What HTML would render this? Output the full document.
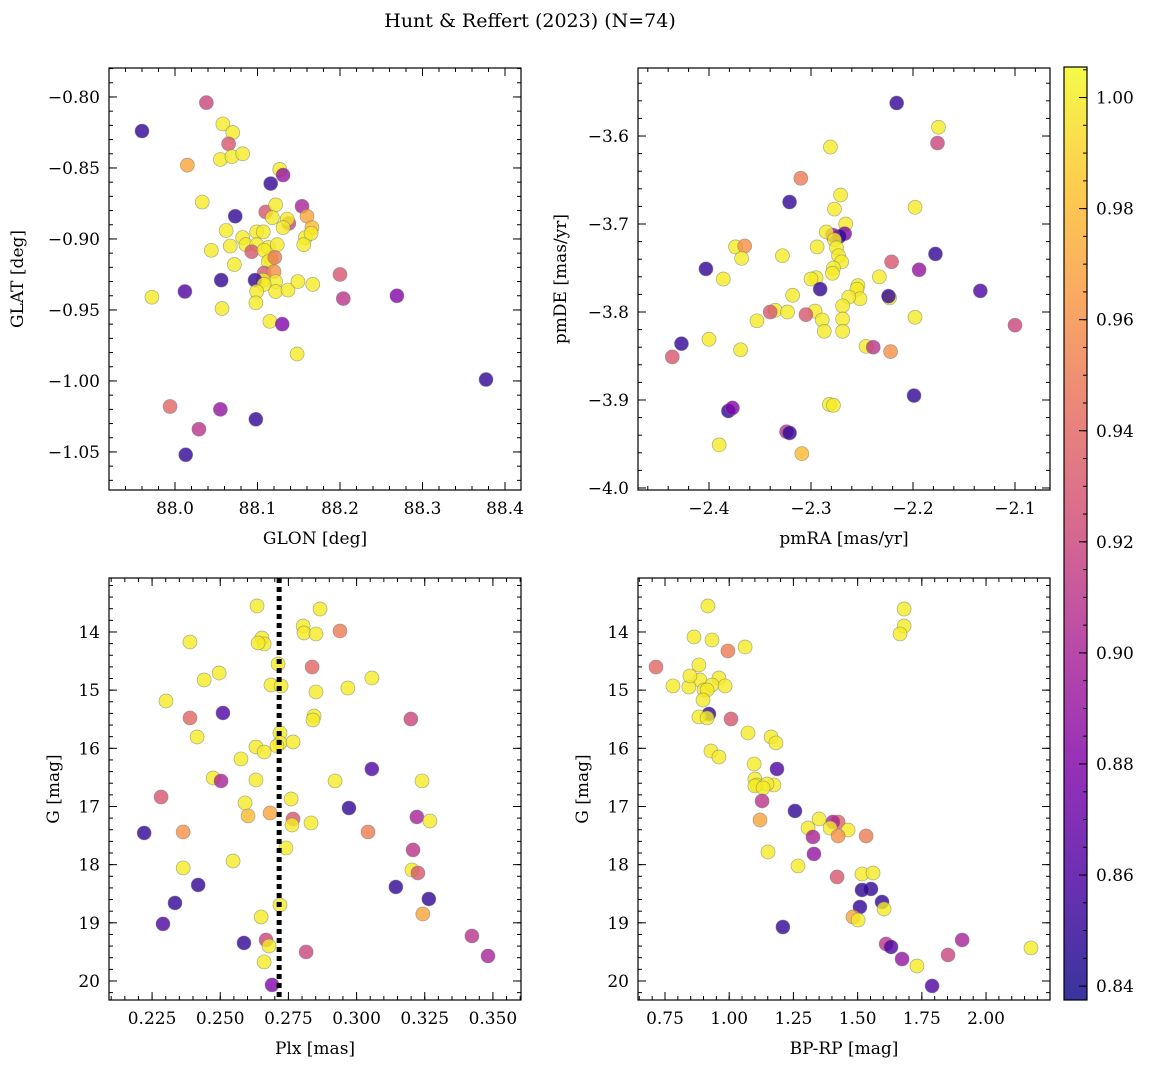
<!DOCTYPE html>
<html><head><meta charset="utf-8">
<style>
html,body{margin:0;padding:0;background:#fff;}
svg{display:block;font-family:"DejaVu Serif","Liberation Serif",serif;}
</style></head>
<body>
<svg id="fig" width="1149" height="1067" viewBox="0 0 1149 1067" xmlns="http://www.w3.org/2000/svg">
<text x="530" y="27" text-anchor="middle" font-size="19">Hunt &amp; Reffert (2023) (N=74)</text>
</svg>
<script>
// Panel 1: GLON / GLAT
const glon=[87.960,88.038,88.015,88.058,88.070,88.065,88.055,88.069,88.082,88.033,88.116,88.127,88.131,88.073,88.110,88.122,88.118,88.154,88.160,88.166,88.138,88.136,88.131,88.062,88.082,88.086,88.067,88.044,88.099,88.107,88.099,88.113,88.116,88.093,88.108,88.124,88.113,88.072,88.158,88.156,88.165,88.121,88.108,88.120,88.122,88.107,88.056,88.097,88.108,88.122,88.099,88.137,88.149,88.167,88.200,88.012,87.972,88.057,88.098,88.115,88.130,88.204,88.269,88.148,88.377,87.994,88.055,88.029,88.098,88.013];
const glat=[-0.824,-0.804,-0.848,-0.819,-0.825,-0.833,-0.844,-0.842,-0.840,-0.874,-0.861,-0.851,-0.855,-0.884,-0.881,-0.876,-0.885,-0.877,-0.884,-0.892,-0.889,-0.886,-0.892,-0.894,-0.899,-0.904,-0.905,-0.908,-0.895,-0.895,-0.904,-0.906,-0.914,-0.909,-0.908,-0.904,-0.916,-0.918,-0.899,-0.904,-0.896,-0.913,-0.924,-0.923,-0.930,-0.929,-0.929,-0.929,-0.932,-0.937,-0.937,-0.936,-0.930,-0.932,-0.925,-0.937,-0.941,-0.949,-0.945,-0.958,-0.960,-0.942,-0.940,-0.981,-0.999,-1.018,-1.020,-1.034,-1.027,-1.052];
const prob1=[0.85,0.92,0.97,1,1,0.93,1,1,1,1,0.85,1,0.89,0.85,0.93,1,1,0.90,0.97,0.98,0.92,1,1,1,1,1,1,1,1,1,1,1,1,0.93,1,1,1,1,1,1,1,0.95,0.93,0.96,1,1,0.85,0.85,1,1,1,1,1,1,0.93,0.86,1,1,1,1,0.88,0.91,0.88,1,0.85,0.94,0.89,0.91,0.85,0.85];
// Panel 2: pmRA / pmDE
const pmra=[-2.216,-2.175,-2.176,-2.281,-2.310,-2.321,-2.271,-2.198,-2.277,-2.266,-2.267,-2.272,-2.279,-2.285,-2.294,-2.374,-2.365,-2.368,-2.403,-2.178,-2.328,-2.277,-2.275,-2.273,-2.270,-2.278,-2.279,-2.233,-2.221,-2.194,-2.386,-2.295,-2.300,-2.318,-2.291,-2.254,-2.255,-2.252,-2.263,-2.223,-2.224,-2.134,-2.269,-2.296,-2.353,-2.335,-2.340,-2.323,-2.305,-2.289,-2.269,-2.198,-2.100,-2.287,-2.269,-2.400,-2.369,-2.427,-2.246,-2.239,-2.222,-2.199,-2.436,-2.381,-2.377,-2.282,-2.278,-2.324,-2.321,-2.390,-2.309];
const pmde=[-3.5625,-3.590,-3.608,-3.6125,-3.648,-3.675,-3.667,-3.681,-3.683,-3.700,-3.711,-3.714,-3.7125,-3.709,-3.726,-3.726,-3.725,-3.739,-3.751,-3.734,-3.736,-3.718,-3.727,-3.736,-3.743,-3.750,-3.756,-3.760,-3.743,-3.752,-3.7625,-3.761,-3.7625,-3.781,-3.774,-3.770,-3.774,-3.785,-3.783,-3.784,-3.782,-3.776,-3.793,-3.799,-3.810,-3.798,-3.800,-3.800,-3.803,-3.809,-3.808,-3.806,-3.815,-3.822,-3.822,-3.831,-3.843,-3.836,-3.839,-3.840,-3.845,-3.895,-3.851,-3.9125,-3.909,-3.905,-3.906,-3.936,-3.9375,-3.951,-3.961];
const prob2=[0.85,1,0.92,1,0.95,0.85,1,1,1,1,0.88,0.85,0.89,1,1,1,0.96,1,0.85,0.85,1,1,1,1,1,1,1,1,0.93,0.89,1,1,1,1,0.85,1,1,1,1,1,0.85,0.86,1,1,1,1,0.93,1,0.93,1,1,1,0.92,1,1,1,1,0.85,1,0.91,0.96,0.85,0.93,0.85,0.88,1,1,0.91,0.85,1,0.98];
// Panel 3: Plx / G
const plx=[0.2635,0.2866,0.2804,0.2807,0.2939,0.2851,0.2653,0.2661,0.2639,0.2389,0.2712,0.2837,0.2496,0.2441,0.3056,0.2686,0.2723,0.2851,0.2968,0.2301,0.2510,0.2389,0.2844,0.2840,0.3199,0.2719,0.2415,0.2719,0.2767,0.2708,0.2631,0.2661,0.2576,0.3056,0.2474,0.2503,0.2631,0.2921,0.3240,0.2591,0.2760,0.2283,0.2972,0.2602,0.2683,0.2767,0.2833,0.2763,0.3221,0.3269,0.2221,0.2364,0.3042,0.2741,0.3207,0.2547,0.2364,0.3203,0.3225,0.2419,0.3144,0.3265,0.2334,0.2719,0.3243,0.2650,0.2290,0.3423,0.2587,0.2668,0.2679,0.2815,0.3482,0.2661,0.2690];
const gPlx=[13.553,13.605,13.897,14.017,13.983,14.034,14.103,14.206,14.189,14.172,14.550,14.602,14.705,14.825,14.791,14.911,14.928,15.031,14.963,15.186,15.392,15.478,15.444,15.513,15.496,15.736,15.805,15.908,15.891,15.960,15.977,16.063,16.183,16.355,16.510,16.561,16.544,16.561,16.561,16.939,16.871,16.837,17.026,17.163,17.112,17.215,17.283,17.318,17.180,17.249,17.455,17.438,17.438,17.713,17.747,17.937,18.057,18.091,18.143,18.349,18.384,18.590,18.659,18.693,18.848,18.899,19.019,19.226,19.346,19.295,19.398,19.501,19.570,19.673,20.068];
const prob3=[1,1,1,1,0.95,1,1,1,1,1,1,0.94,1,1,1,1,1,1,1,1,0.86,0.94,1,1,0.92,1,1,1,1,1,1,1,1,0.86,1,0.90,1,1,1,1,1,0.93,0.85,0.98,0.97,0.93,1,1,0.90,1,0.85,0.96,0.95,1,0.91,1,1,1,0.93,0.85,0.85,0.85,0.85,1,0.97,1,0.86,0.91,0.85,0.92,1,0.92,0.90,1,0.88];
// Panel 4: BP-RP / G
const bprp=[1.681,1.681,1.665,0.917,0.715,0.995,0.863,0.933,1.062,0.886,0.843,0.847,0.882,0.781,0.902,0.960,0.933,0.984,0.914,0.898,0.921,0.882,0.914,1.073,1.007,1.163,1.182,1.186,0.929,0.960,1.097,1.100,1.108,1.174,1.147,1.100,1.132,1.128,1.256,1.120,1.350,1.307,1.424,1.404,1.393,1.463,1.424,1.533,1.326,1.151,1.330,1.268,1.420,1.517,1.560,1.552,1.517,1.595,1.509,1.603,1.482,1.502,1.209,1.611,1.630,1.907,1.852,1.673,1.731,2.175,1.790];
const gCol=[13.605,13.897,14.034,13.553,14.602,14.326,14.086,14.137,14.258,14.825,14.946,14.756,14.567,14.928,14.997,14.791,14.911,14.928,14.997,15.169,15.410,15.461,15.478,15.736,15.496,15.805,15.908,16.355,16.046,16.149,16.269,16.527,16.630,16.630,16.613,16.647,16.681,16.905,17.077,17.232,17.215,17.370,17.266,17.266,17.370,17.404,17.507,17.507,17.524,17.782,17.816,18.022,18.211,18.160,18.143,18.418,18.435,18.642,18.728,18.762,18.900,18.952,19.072,19.364,19.415,19.295,19.553,19.622,19.742,19.432,20.085];
const prob4=[1,1,1,1,0.94,0.95,1,1,1,1,1,1,1,1,1,1,1,1,1,1,0.85,1,1,1,0.93,1,1,0.86,1,1,1,1,1,1,1,1,1,0.91,0.85,0.97,1,1,0.94,0.90,1,1,0.96,0.95,0.90,1,0.89,1,0.93,1,1,0.85,0.85,0.85,0.85,1,0.97,1,0.85,0.91,0.86,0.90,0.92,0.89,1,1,0.86];
// Colorbar ticks
const cbTicks=[0.84,0.86,0.88,0.90,0.92,0.94,0.96,0.98,1.00];

const NS="http://www.w3.org/2000/svg";
const svg=document.getElementById('fig');
function mk(tag,attrs,parent){const e=document.createElementNS(NS,tag);for(const k in attrs)e.setAttribute(k,attrs[k]);(parent||svg).appendChild(e);return e;}
const VMIN=0.8375,VMAX=1.0055;
const stops=[[0,[13,8,135]],[0.13,[75,3,161]],[0.25,[126,3,168]],[0.38,[170,35,149]],[0.5,[204,71,120]],[0.63,[229,107,93]],[0.75,[248,149,64]],[0.88,[253,196,39]],[1,[240,249,33]]];
function cmap(v){let t=(v-VMIN)/(VMAX-VMIN);t=Math.max(0,Math.min(1,t));for(let i=1;i<stops.length;i++){if(t<=stops[i][0]){const a=stops[i-1],b=stops[i];const f=(t-a[0])/(b[0]-a[0]);const c=a[1].map((x,j)=>Math.round(x+(b[1][j]-x)*f));return `rgb(${c[0]},${c[1]},${c[2]})`;}}return 'rgb(240,249,33)';}

function fmt(v,d){let s=v.toFixed(d);return s.replace('-','\u2212');}
function panel(p){
  const sx=v=>p.px0+(v-p.xmin)/(p.xmax-p.xmin)*(p.px1-p.px0);
  const sy=v=>p.py0+(v-p.ytop)/(p.ybot-p.ytop)*(p.py1-p.py0);
  const g=mk('g',{});
  
  
  // points
  for(let i=0;i<p.xs.length;i++){
    const c=mk('circle',{cx:sx(p.xs[i]),cy:sy(p.ys[i]),r:7,fill:cmap(p.c[i]),'fill-opacity':0.8,stroke:'#777','stroke-opacity':0.6,'stroke-width':0.7},g);
    
    
  }
  if(p.vline!==undefined){
    const l=mk('line',{x1:sx(p.vline),x2:sx(p.vline),y1:p.py0,y2:p.py1,stroke:'#000','stroke-width':5,'stroke-dasharray':'5,4'},g);
    
    
  }
  const fr=mk('rect',{x:p.px0,y:p.py0,width:p.px1-p.px0,height:p.py1-p.py0,fill:'none',stroke:'#000','stroke-width':1.2},g);
  
  
  // minor ticks
  const eps=1e-9;
  for(let v=Math.ceil(p.xmin/p.xmi-eps)*p.xmi;v<=p.xmax+eps;v+=p.xmi){const x=sx(v);mk('line',{x1:x,x2:x,y1:p.py1,y2:p.py1-4,stroke:'#000'},g);mk('line',{x1:x,x2:x,y1:p.py0,y2:p.py0+4,stroke:'#000'},g);}
  const ylo=Math.min(p.ytop,p.ybot),yhi=Math.max(p.ytop,p.ybot);
  for(let v=Math.ceil(ylo/p.ymi-eps)*p.ymi;v<=yhi+eps;v+=p.ymi){const y=sy(v);mk('line',{x1:p.px0,x2:p.px0+4,y1:y,y2:y,stroke:'#000'},g);mk('line',{x1:p.px1,x2:p.px1-4,y1:y,y2:y,stroke:'#000'},g);}
  for(const v of p.xt){const x=sx(v);mk('line',{x1:x,x2:x,y1:p.py1,y2:p.py1-8,stroke:'#000'},g);mk('line',{x1:x,x2:x,y1:p.py0,y2:p.py0+8,stroke:'#000'},g);
    const t=mk('text',{x:x,y:p.py1+24,'text-anchor':'middle','font-size':17},g);t.textContent=fmt(v,p.xd);
    
    }
  for(const v of p.yt){const y=sy(v);mk('line',{x1:p.px0,x2:p.px0+8,y1:y,y2:y,stroke:'#000'},g);mk('line',{x1:p.px1,x2:p.px1-8,y1:y,y2:y,stroke:'#000'},g);
    const t=mk('text',{x:p.px0-9,y:y+6,'text-anchor':'end','font-size':17},g);t.textContent=fmt(v,p.yd);
    
    }
  const xl=mk('text',{x:(p.px0+p.px1)/2,y:p.py1+54,'text-anchor':'middle','font-size':17},g);xl.textContent=p.xlab;
  
  
  const yx=p.ylx;const yy=(p.py0+p.py1)/2;
  const yl=mk('text',{x:yx,y:yy,'text-anchor':'middle','font-size':17,transform:`rotate(-90 ${yx} ${yy})`},g);yl.textContent=p.ylab;
  
  
}
panel({name:'glon-glat-panel',px0:109,px1:521,py0:68,py1:490,xmin:87.92,xmax:88.4194,ytop:-0.7796,ybot:-1.0768,xs:glon,ys:glat,c:prob1,xt:[88.0,88.1,88.2,88.3,88.4],xd:1,xmi:0.02,yt:[-0.80,-0.85,-0.90,-0.95,-1.00,-1.05],yd:2,ymi:0.01,xlab:'GLON [deg]',ylab:'GLAT [deg]',ylx:23});
panel({name:'pm-panel',px0:638,px1:1050,py0:68,py1:490,xmin:-2.4696,xmax:-2.0657,ytop:-3.5227,ybot:-4.0023,xs:pmra,ys:pmde,c:prob2,xt:[-2.4,-2.3,-2.2,-2.1],xd:1,xmi:0.02,yt:[-3.6,-3.7,-3.8,-3.9,-4.0],yd:1,ymi:0.02,xlab:'pmRA [mas/yr]',ylab:'pmDE [mas/yr]',ylx:566});
panel({name:'plx-g-panel',px0:109,px1:521,py0:578,py1:1000,xmin:0.2092,xmax:0.3603,ytop:13.072,ybot:20.327,xs:plx,ys:gPlx,c:prob3,xt:[0.225,0.25,0.275,0.3,0.325,0.35],xd:3,xmi:0.005,yt:[14,15,16,17,18,19,20],yd:0,ymi:0.2,xlab:'Plx [mas]',ylab:'G [mag]',ylx:59,vline:0.2716});
panel({name:'cmd-panel',px0:638,px1:1050,py0:578,py1:1000,xmin:0.6449,xmax:2.249,ytop:13.072,ybot:20.327,xs:bprp,ys:gCol,c:prob4,xt:[0.75,1.0,1.25,1.5,1.75,2.0],xd:2,xmi:0.05,yt:[14,15,16,17,18,19,20],yd:0,ymi:0.2,xlab:'BP-RP [mag]',ylab:'G [mag]',ylx:588});

// colorbar
const cb={x:1064,w:23,y0:67,y1:1000};
const cby=v=>cb.y1-(v-VMIN)/(VMAX-VMIN)*(cb.y1-cb.y0);
const defs=mk('defs',{});
const lg=mk('linearGradient',{id:'cbg',x1:0,y1:1,x2:0,y2:0},defs);
for(let i=0;i<=40;i++){const t=i/40;mk('stop',{offset:t,'stop-color':cmap(VMIN+t*(VMAX-VMIN))},lg);}
const cbg=mk('g',{});


mk('rect',{x:cb.x,y:cb.y0,width:cb.w,height:cb.y1-cb.y0,fill:'url(#cbg)','fill-opacity':0.82},cbg);
mk('rect',{x:cb.x,y:cb.y0,width:cb.w,height:cb.y1-cb.y0,fill:'none',stroke:'#000','stroke-width':1.2},cbg);
for(let v=0.84;v<=1.005;v+=0.005){const y=cby(v);mk('line',{x1:cb.x+cb.w,x2:cb.x+cb.w-4,y1:y,y2:y,stroke:'#000'},cbg);}
for(const v of cbTicks){const y=cby(v);mk('line',{x1:cb.x+cb.w,x2:cb.x+cb.w-8,y1:y,y2:y,stroke:'#000'},cbg);
  const t=mk('text',{x:cb.x+cb.w+9,y:y+6,'font-size':17},cbg);t.textContent=v.toFixed(2);
  
  }
</script>
</body></html>
